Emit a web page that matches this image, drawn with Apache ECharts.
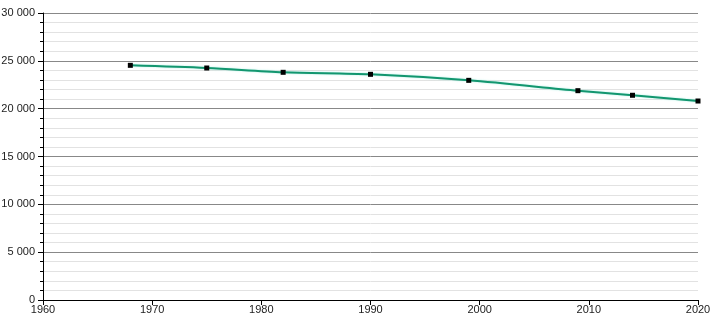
<!DOCTYPE html>
<html><head><meta charset="utf-8">
<script src="https://cdn.jsdelivr.net/npm/echarts@6/dist/echarts.min.js"></script>
<style>html,body{margin:0;padding:0;background:#fff}#c{width:710px;height:320px}</style>
</head><body><div id="c"></div>
<script>
const years = [1968, 1975, 1982, 1990, 1999, 2009, 2014, 2020];
const population = [24530, 24250, 23800, 23590, 22960, 21880, 21400, 20800];
const xTicks = [1960, 1970, 1980, 1990, 2000, 2010, 2020];
const yTicks = [0, 5000, 10000, 15000, 20000, 25000, 30000];

function fmt(v){ return String(v).replace(/\B(?=(\d{3})+(?!\d))/g, ' '); }
const chart = echarts.init(document.getElementById('c'));
chart.setOption({
  animation: false,
  grid: {left: 43, right: 12, top: 13, bottom: 20, containLabel: false, outerBoundsMode: 'none'},
  xAxis: {
    type: 'value', min: xTicks[0], max: xTicks[xTicks.length-1], interval: 10,
    axisLine: {lineStyle: {color: '#000', width: 1}},
    axisTick: {show: true, length: 5, lineStyle: {color: '#000'}},
    axisLabel: {color: '#222', fontFamily: 'Liberation Sans, Arial', fontSize: 11, margin: 4, formatter: v => String(v)},
    splitLine: {show: false}
  },
  yAxis: {
    type: 'value', min: yTicks[0], max: yTicks[yTicks.length-1], interval: 5000,
    axisLine: {show: true, lineStyle: {color: '#000', width: 1}},
    axisTick: {show: true, length: 5, lineStyle: {color: '#000'}},
    minorTick: {show: true, splitNumber: 5, length: 3, lineStyle: {color: '#000'}},
    axisLabel: {color: '#222', fontFamily: 'Liberation Sans, Arial', fontSize: 11, margin: 8, formatter: v => fmt(v)},
    splitLine: {show: true, lineStyle: {color: '#888', width: 1}},
    minorSplitLine: {show: true, lineStyle: {color: '#e2e2e2', width: 1}}
  },
  series: [{
    type: 'line',
    data: years.map((y, i) => [y, population[i]]),
    smooth: 0.3,
    symbol: 'rect', symbolSize: 5,
    itemStyle: {color: '#000'},
    lineStyle: {color: '#13966f', width: 2, shadowColor: 'rgba(120,230,210,0.6)', shadowBlur: 2},
    z: 5
  }]
});
</script></body></html>
